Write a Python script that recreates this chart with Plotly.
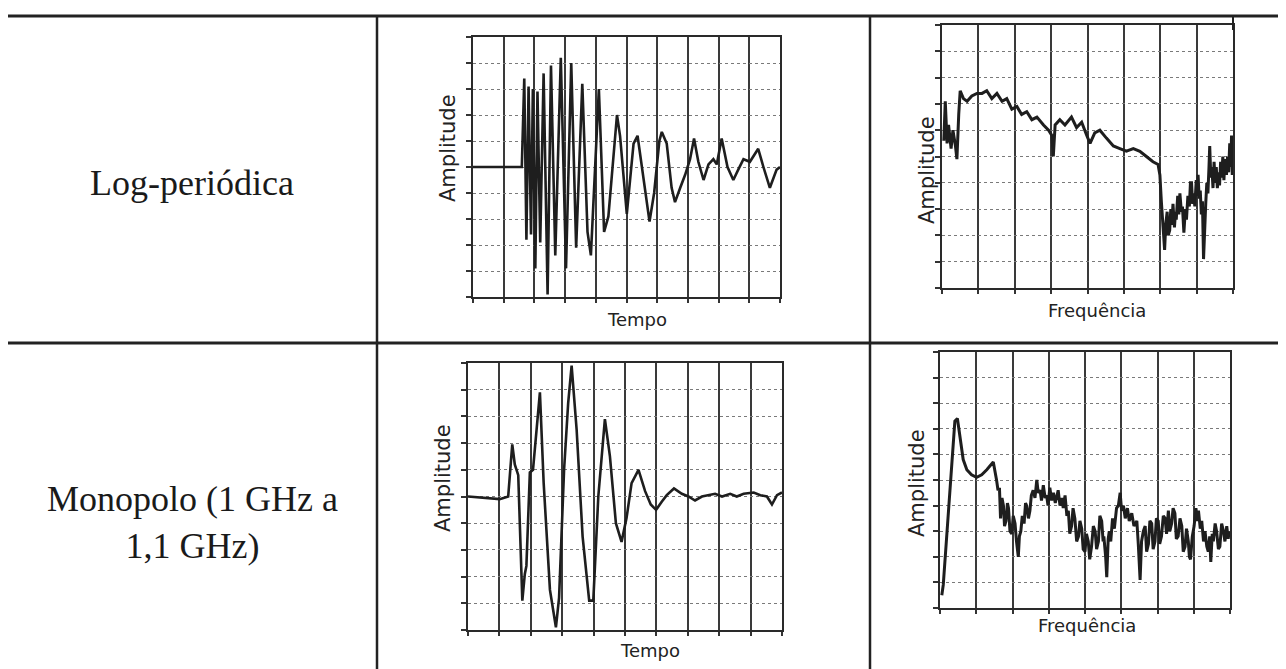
import plotly.graph_objects as go

# page has an 8px body margin; figure is sized to fit the 1286x669 window
OFF = 8
W, H = 1286 - OFF, 669 - OFF

# ---------------- data ----------------
row_labels = ["Log-periódica", "Monopolo (1 GHz a<br>1,1 GHz)"]
x_title_time = "Tempo"
x_title_freq = "Frequência"
y_title = "Amplitude"

# Log-periodic, time domain (x: 0..10 divisions, y: -5..5)
lp_t_x = [0.0, 1.59, 1.67, 1.74, 1.81, 1.89, 1.95, 2.03, 2.10, 2.19, 2.30, 2.43, 2.54, 2.68,
          2.86, 3.03, 3.20, 3.36, 3.56, 3.73, 3.84, 4.10, 4.27, 4.41, 4.69, 4.79, 5.01, 5.23,
          5.36, 5.55, 5.75, 5.90, 6.07, 6.15, 6.31, 6.47, 6.58, 6.75, 6.91, 7.07, 7.20, 7.34,
          7.51, 7.67, 7.83, 7.94, 8.10, 8.29, 8.48, 8.64, 8.81, 9.02, 9.29, 9.46, 9.67, 9.89, 10.0]
lp_t_y = [0.0, 0.0, 3.4, -2.8, 3.1, -2.6, 3.0, -3.9, 2.9, -2.9, 3.6, -4.9, 3.9, -3.4,
          4.2, -3.9, 4.0, -3.1, 3.2, -2.5, -3.4, 3.0, -2.5, -1.9, 2.0, 1.2, -1.8, 0.9,
          1.2, -0.5, -2.1, -1.0, 1.0, 1.35, 0.9, -0.8, -1.35, -0.8, -0.3, 0.3, 1.1, 0.2,
          -0.5, 0.1, 0.3, 0.1, 1.1, 0.0, -0.5, -0.1, 0.3, 0.2, 0.7, 0.0, -0.8, -0.1, 0.0]

# Log-periodic, frequency domain (x: 0..8 divisions, y: 0..10)
lp_f_x = [0.05, 0.09, 0.14, 0.18, 0.25, 0.30, 0.37, 0.41, 0.46, 0.50, 0.59, 0.69, 0.82, 0.96,
          1.10, 1.23, 1.37, 1.51, 1.65, 1.78, 1.92, 2.06, 2.19, 2.33, 2.47, 2.61, 2.79, 2.93,
          3.02, 3.06, 3.11, 3.24, 3.38, 3.56, 3.70, 3.84, 3.98, 4.07, 4.20, 4.34, 4.52, 4.71,
          4.89, 5.07, 5.26, 5.44, 5.62, 5.80, 5.94, 5.99, 6.03, 6.06, 6.08, 6.10, 6.12, 6.15,
          6.19, 6.22, 6.26, 6.29, 6.32, 6.35, 6.39, 6.42, 6.44, 6.48, 6.51, 6.54, 6.58, 6.61,
          6.63, 6.65, 6.69, 6.72, 6.76, 6.80, 6.83, 6.86, 6.89, 6.92, 6.95, 6.99, 7.02, 7.04,
          7.07, 7.10, 7.13, 7.16, 7.19, 7.22, 7.25, 7.28, 7.31, 7.34, 7.36, 7.39, 7.42, 7.45,
          7.48, 7.51, 7.54, 7.57, 7.60, 7.63, 7.66, 7.69, 7.72, 7.75, 7.78, 7.82, 7.85, 7.88,
          7.91, 7.94, 7.96, 7.98]
lp_f_y = [5.6, 7.1, 5.5, 6.2, 5.3, 6.0, 5.4, 4.9, 6.6, 7.5, 7.2, 7.1, 7.3, 7.4,
          7.4, 7.5, 7.2, 7.4, 7.1, 7.2, 6.8, 6.9, 6.6, 6.7, 6.4, 6.5, 6.2, 6.0,
          5.8, 5.0, 6.2, 6.4, 6.2, 6.5, 6.1, 6.3, 5.8, 5.5, 5.9, 6.0, 5.7, 5.4,
          5.3, 5.2, 5.3, 5.2, 5.0, 4.8, 4.7, 4.3, 3.3, 2.6, 2.2, 1.8, 1.45, 2.4,
          2.9, 2.0, 2.2, 3.0, 2.4, 3.2, 2.3, 2.9, 2.6, 3.5, 2.8, 3.6, 2.9, 3.1,
          2.6, 2.1, 3.0, 2.6, 3.5, 3.1, 4.0, 4.0, 3.2, 3.6, 3.1, 4.1, 3.5, 4.3,
          3.4, 3.7, 2.8, 3.3, 1.1, 2.6, 3.2, 4.0, 3.6, 4.6, 5.4, 4.2, 4.6, 3.8,
          4.8, 4.0, 4.6, 3.8, 4.4, 3.9, 4.8, 4.2, 5.0, 4.1, 4.9, 4.3, 5.0, 4.4,
          5.5, 4.6, 5.8, 4.3]

# Monopole, time domain
mp_t_x = [0.0, 1.01, 1.28, 1.41, 1.49, 1.60, 1.73, 1.81, 1.86, 1.97, 2.07, 2.29, 2.41, 2.61,
          2.80, 2.90, 3.06, 3.19, 3.30, 3.46, 3.65, 3.86, 3.99, 4.15, 4.36, 4.52, 4.71, 4.89,
          5.05, 5.21, 5.43, 5.64, 5.82, 5.99, 6.17, 6.33, 6.56, 6.81, 7.02, 7.23, 7.45, 7.66,
          7.87, 8.09, 8.35, 8.56, 8.78, 9.10, 9.31, 9.52, 9.68, 9.84, 10.0]
mp_t_y = [0.0, -0.1, 0.0, 1.95, 1.2, 0.8, -3.9, -2.9, -2.6, 0.9, 1.0, 3.9, 0.5, -3.5,
          -4.9, -3.8, 1.0, 3.5, 4.9, 2.5, -1.5, -3.9, -3.9, 0.0, 2.9, 1.5, -1.0, -1.7,
          -0.8, 0.5, 1.0, 0.2, -0.3, -0.5, -0.2, 0.05, 0.3, 0.1, 0.0, -0.15, 0.0, 0.05,
          0.1, 0.0, 0.1, 0.0, 0.1, 0.15, 0.05, 0.0, -0.3, 0.05, 0.15]

# Monopole, frequency domain
mp_f_x = [0.05, 0.09, 0.17, 0.23, 0.29, 0.35, 0.41, 0.48, 0.55, 0.64, 0.74, 0.87, 1.01, 1.15,
          1.29, 1.47, 1.56, 1.60, 1.64, 1.67, 1.71, 1.75, 1.78, 1.82, 1.86, 1.89, 1.93, 1.98,
          2.02, 2.07, 2.11, 2.16, 2.19, 2.23, 2.27, 2.32, 2.36, 2.39, 2.44, 2.48, 2.52, 2.57,
          2.62, 2.67, 2.71, 2.76, 2.80, 2.85, 2.90, 2.94, 2.98, 3.03, 3.08, 3.13, 3.18, 3.26,
          3.31, 3.36, 3.40, 3.45, 3.50, 3.54, 3.58, 3.63, 3.67, 3.72, 3.77, 3.82, 3.86, 3.91,
          3.95, 4.00, 4.04, 4.09, 4.13, 4.18, 4.23, 4.28, 4.32, 4.37, 4.41, 4.46, 4.50, 4.52,
          4.57, 4.60, 4.64, 4.67, 4.71, 4.76, 4.81, 4.87, 4.92, 4.97, 5.01, 5.06, 5.11, 5.17,
          5.22, 5.29, 5.35, 5.43, 5.47, 5.52, 5.56, 5.61, 5.66, 5.70, 5.75, 5.79, 5.84, 5.88,
          5.93, 5.97, 6.02, 6.06, 6.11, 6.16, 6.21, 6.25, 6.30, 6.34, 6.39, 6.43, 6.48, 6.52,
          6.57, 6.62, 6.67, 6.71, 6.76, 6.80, 6.85, 6.88, 6.91, 6.96, 7.01, 7.06, 7.10, 7.13,
          7.18, 7.22, 7.27, 7.31, 7.36, 7.40, 7.44, 7.47, 7.51, 7.54, 7.59, 7.63, 7.68, 7.72,
          7.77, 7.82, 7.86, 7.91, 7.95, 7.98]
mp_f_y = [0.5, 0.9, 2.5, 3.8, 4.8, 6.2, 7.3, 7.4, 6.6, 5.8, 5.4, 5.2, 5.1, 5.2,
          5.4, 5.7, 5.0, 4.6, 4.7, 3.5, 4.3, 4.0, 3.2, 3.4, 4.1, 3.9, 3.0, 2.9,
          3.6, 3.3, 2.6, 2.0, 2.8, 3.0, 3.6, 3.3, 4.1, 4.0, 3.5, 3.8, 4.4, 4.6,
          4.3, 5.0, 4.5, 4.6, 4.2, 4.8, 4.3, 4.4, 4.0, 4.7, 4.2, 4.5, 4.1, 4.6,
          4.0, 4.3, 3.9, 4.4, 3.6, 3.8, 2.9, 3.2, 3.9, 3.5, 2.6, 2.8, 3.4, 3.1,
          2.3, 2.2, 2.9, 2.6, 1.9, 2.4, 3.2, 3.0, 2.3, 2.6, 3.6, 3.4, 2.6, 2.8,
          2.0, 1.2, 2.7, 3.0, 2.6, 3.5, 3.1, 3.9, 4.0, 4.5, 3.8, 4.0, 3.5, 3.9,
          3.4, 3.7, 3.2, 3.4, 2.5, 1.1, 2.6, 3.0, 3.2, 2.2, 2.5, 3.4, 3.3, 2.3,
          2.6, 3.5, 3.4, 2.5, 2.8, 3.6, 3.5, 2.9, 3.8, 3.0, 3.3, 3.9, 3.7, 2.7,
          2.8, 3.5, 3.2, 2.2, 2.4, 3.1, 2.6, 2.0, 1.9, 2.8, 3.2, 3.9, 3.4, 3.8,
          3.1, 3.4, 2.6, 3.0, 2.4, 2.2, 2.8, 1.8, 2.9, 2.6, 3.3, 3.0, 2.3, 2.4,
          3.3, 3.0, 2.6, 3.2, 2.7, 3.0]

# ---------------- figure ----------------
LINE_T = dict(color="#1e1e1e", width=2.6)
LINE_F = dict(color="#1e1e1e", width=3)
fig = go.Figure()
fig.add_trace(go.Scatter(x=lp_t_x, y=lp_t_y, mode="lines", line=LINE_T, xaxis="x", yaxis="y"))
fig.add_trace(go.Scatter(x=lp_f_x, y=lp_f_y, mode="lines", line=LINE_F, xaxis="x2", yaxis="y2"))
fig.add_trace(go.Scatter(x=mp_t_x, y=mp_t_y, mode="lines", line=LINE_T, xaxis="x3", yaxis="y3"))
fig.add_trace(go.Scatter(x=mp_f_x, y=mp_f_y, mode="lines", line=LINE_F, xaxis="x4", yaxis="y4"))


def fx(p):
    return (p - OFF) / W


def fy(p):
    return 1 - (p - OFF) / H


def xax(a, b, rng, anchor):
    return dict(domain=[fx(a), fx(b)], range=rng, dtick=1, tick0=0, showgrid=True,
                gridcolor="#3a3a3a", gridwidth=1.6, showline=True, linecolor="#2a2a2a",
                linewidth=2.2, mirror=True, ticks="outside", ticklen=4, tickwidth=1.5,
                tickcolor="#333", showticklabels=False, zeroline=False, anchor=anchor,
                fixedrange=True)


def yax(top, bottom, rng, anchor):
    return dict(domain=[fy(bottom), fy(top)], range=rng, dtick=1, tick0=0, showgrid=True,
                gridcolor="#7a7a7a", gridwidth=1.4, griddash="dot", showline=True,
                linecolor="#2a2a2a", linewidth=2.2, mirror=True, ticks="outside", ticklen=5,
                tickwidth=2, tickcolor="#333", showticklabels=False, zeroline=False,
                anchor=anchor, fixedrange=True)


fig.update_layout(
    width=W, height=H, margin=dict(l=0, r=0, t=0, b=0),
    paper_bgcolor="white", plot_bgcolor="white", showlegend=False,
    xaxis=xax(473, 780, [0, 10], "y"),
    yaxis=yax(37, 297, [-5, 5], "x"),
    xaxis2=xax(942, 1233, [0, 8], "y2"),
    yaxis2=yax(25, 288, [0, 10], "x2"),
    xaxis3=xax(468, 782, [0, 10], "y3"),
    yaxis3=yax(363, 630, [-5, 5], "x3"),
    xaxis4=xax(940, 1230, [0, 8], "y4"),
    yaxis4=yax(352, 608, [0, 10], "x4"),
)


def hline(x0, x1, y, w=3):
    fig.add_shape(type="line", xref="paper", yref="paper", x0=fx(x0), x1=fx(x1),
                  y0=fy(y), y1=fy(y), line=dict(color="#222", width=w))


def vline(x, y0, y1, w=2.5):
    fig.add_shape(type="line", xref="paper", yref="paper", x0=fx(x), x1=fx(x),
                  y0=fy(y0), y1=fy(y1), line=dict(color="#222", width=w))


hline(8, 1286, 16)
hline(8, 1286, 343)
vline(377, 16, 669)
vline(870, 16, 669)
vline(1233, 16, 30, 2)

serif = dict(family="Liberation Serif, Times New Roman, serif", size=36, color="#1a1a1a")
fig.add_annotation(x=fx(192), y=fy(183), xref="paper", yref="paper", text=row_labels[0],
                   showarrow=False, font=serif, xanchor="center", yanchor="middle")
fig.add_annotation(x=fx(192), y=fy(522), xref="paper", yref="paper", text=row_labels[1],
                   showarrow=False, font=serif, xanchor="center", yanchor="middle")

sans = dict(family="DejaVu Sans, sans-serif", size=18, color="#222")
sans_y = dict(family="DejaVu Sans, sans-serif", size=21, color="#222")
for (x, y, t) in [(637, 320, x_title_time), (1097, 310, x_title_freq),
                  (650, 650, x_title_time), (1087, 625, x_title_freq)]:
    fig.add_annotation(x=fx(x), y=fy(y), xref="paper", yref="paper", text=t,
                       showarrow=False, font=sans, xanchor="center", yanchor="middle")
for (x, y) in [(448, 148), (927, 170), (443, 478), (917, 483)]:
    fig.add_annotation(x=fx(x), y=fy(y), xref="paper", yref="paper", text=y_title,
                       showarrow=False, font=sans_y, textangle=-90,
                       xanchor="center", yanchor="middle")

fig.write_html("out.html")
